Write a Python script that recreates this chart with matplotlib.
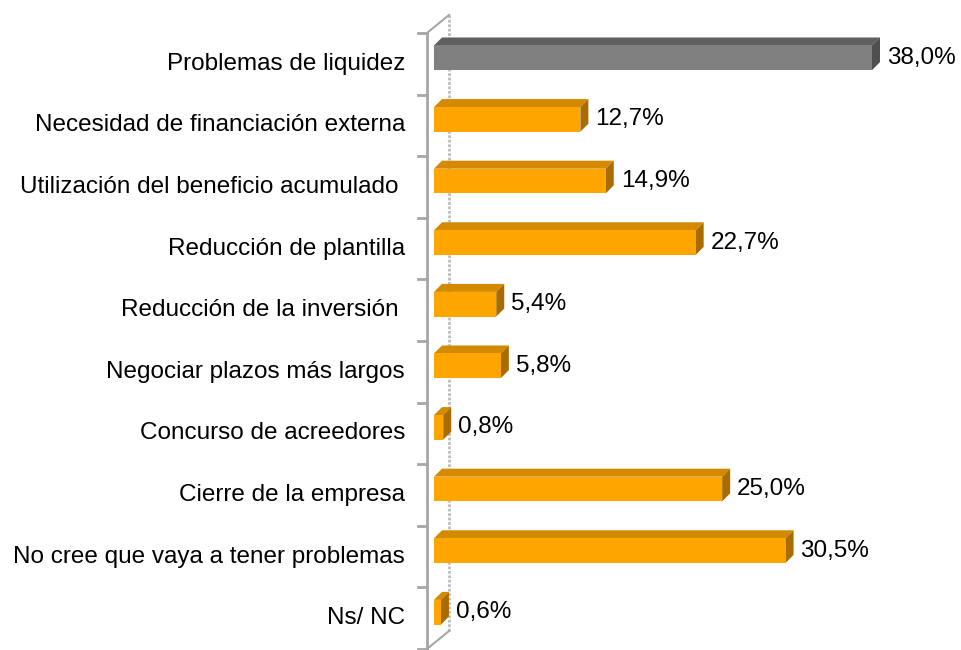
import matplotlib.pyplot as plt
import matplotlib.transforms as mtransforms
from matplotlib.patches import Polygon
from matplotlib.lines import Line2D

categories = [
    'Problemas de liquidez',
    'Necesidad de financiación externa',
    'Utilización del beneficio acumulado ',
    'Reducción de plantilla',
    'Reducción de la inversión ',
    'Negociar plazos más largos',
    'Concurso de acreedores',
    'Cierre de la empresa',
    'No cree que vaya a tener problemas',
    'Ns/ NC',
]
values = [38.0, 12.7, 14.9, 22.7, 5.4, 5.8, 0.8, 25.0, 30.5, 0.6]
value_labels = ['38,0%', '12,7%', '14,9%', '22,7%', '5,4%', '5,8%', '0,8%', '25,0%', '30,5%', '0,6%']

plt.rcParams['font.family'] = ['Liberation Sans', 'DejaVu Sans']

W, H = 961, 650
fig = plt.figure(figsize=(W / 100, H / 100), dpi=100)
# axes = front face plane of the bars (pixels: x 434..872, y 27..643)
ax = fig.add_axes([434 / W, (H - 643) / H, 438 / W, 616 / H])
ax.set_xlim(0, 38)
ax.set_ylim(len(categories) - 0.5, -0.5)
ax.axis('off')

bar_h = 0.40
front = '#FFA500'
top = '#D48A00'
side = '#A86C00'
grey_front, grey_top, grey_side = '#808080', '#5F5F5F', '#4F4F4F'

ypos = list(range(len(categories)))
colors = [grey_front] + [front] * (len(categories) - 1)
ax.barh(ypos, values, height=bar_h, color=colors, edgecolor='none', zorder=3, clip_on=False)

# depth of the bars in pixels
dx, dy = 8, 8
ident = mtransforms.IdentityTransform()
for i, v in enumerate(values):
    (x0, yt), (x1, yb) = ax.transData.transform([(0, i - bar_h / 2), (v, i + bar_h / 2)])
    tc, sc = (grey_top, grey_side) if i == 0 else (top, side)
    ax.add_patch(Polygon([(x0, yt), (x1, yt), (x1 + dx, yt + dy), (x0 + dx, yt + dy)],
                         closed=True, facecolor=tc, edgecolor='none', transform=ident,
                         zorder=2, clip_on=False))
    ax.add_patch(Polygon([(x1, yt), (x1 + dx, yt + dy), (x1 + dx, yb + dy), (x1, yb)],
                         closed=True, facecolor=sc, edgecolor='none', transform=ident,
                         zorder=2, clip_on=False))
    ax.text(v, i, value_labels[i], transform=ax.transData + mtransforms.ScaledTranslation(
        15 / 100, 0, fig.dpi_scale_trans), ha='left', va='center', fontsize=17.5, color='black')

# category labels, centred on the front axis plane
lab_tr = mtransforms.blended_transform_factory(ax.transAxes, ax.transData) + \
    mtransforms.ScaledTranslation(-29 / 100, -6 / 100, fig.dpi_scale_trans)
for i, c in enumerate(categories):
    ax.text(0, i, c, transform=lab_tr, ha='right', va='center', fontsize=17.5, color='black')

# 3D wall: front axis line, back wall line and diagonals
wall_base = mtransforms.blended_transform_factory(ax.transData, ax.transAxes)
front_tr = wall_base + mtransforms.ScaledTranslation(-7 / 100, -6 / 100, fig.dpi_scale_trans)
back_tr = wall_base + mtransforms.ScaledTranslation(15 / 100, 12 / 100, fig.dpi_scale_trans)
wall_col = '#A6A6A6'
ax.add_line(Line2D([0, 0], [0, 1], transform=front_tr, color=wall_col, lw=2, clip_on=False))
ax.add_line(Line2D([0, 0], [0, 1], transform=back_tr, color='#BDBDBD', lw=2, ls=(0, (1, 0.6)),
                   clip_on=False, zorder=1))
for yy in (0, 1):
    p0 = front_tr.transform((0, yy))
    p1 = back_tr.transform((0, yy))
    ax.add_line(Line2D([p0[0], p1[0]], [p0[1], p1[1]], transform=ident, color=wall_col, lw=1.5,
                       clip_on=False))

# tick marks at category boundaries on the front axis
tick_tr = mtransforms.blended_transform_factory(ax.transAxes, ax.transData) + \
    mtransforms.ScaledTranslation(-7 / 100, -6 / 100, fig.dpi_scale_trans)
for k in range(len(categories) + 1):
    b = k - 0.5
    p = tick_tr.transform((0, b))
    ax.add_line(Line2D([p[0] - 9, p[0]], [p[1], p[1]], transform=ident, color=wall_col, lw=2,
                       clip_on=False))

fig.savefig('out.png', dpi=100)
